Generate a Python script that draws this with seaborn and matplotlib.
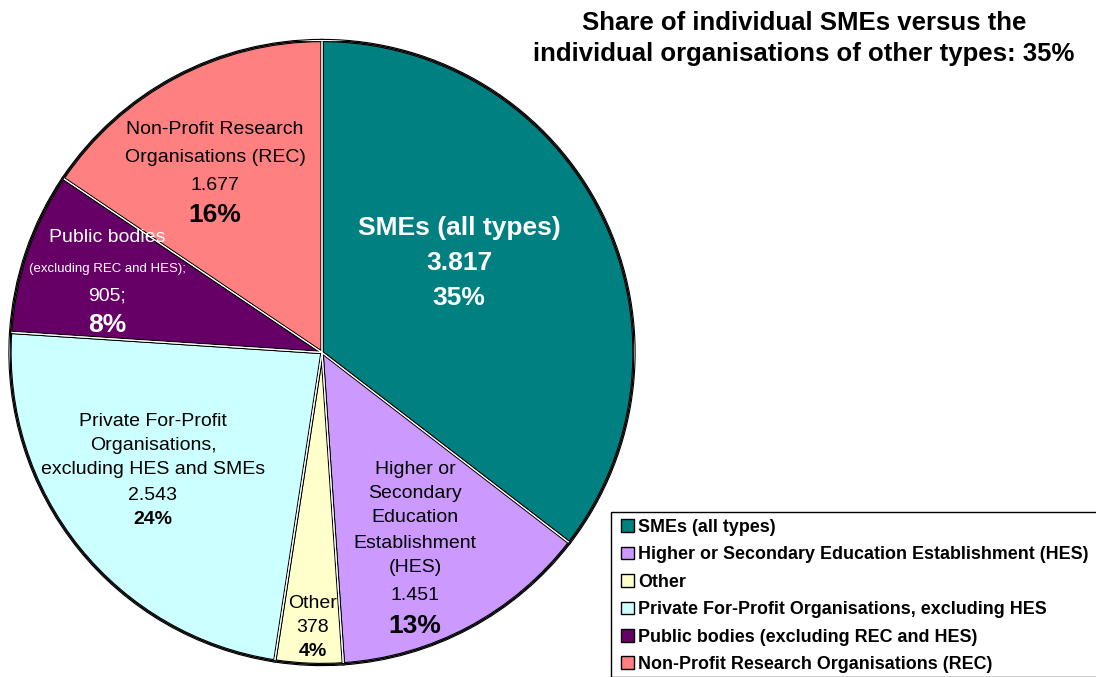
import numpy as np
import pandas as pd
import matplotlib.pyplot as plt
import seaborn as sns
from matplotlib.patches import Patch, Rectangle, Circle

sns.set_theme(style="white")
plt.rcParams["font.family"] = ["Liberation Sans", "DejaVu Sans"]
plt.rcParams["text.color"] = "black"

# data
categories = ["SMEs (all types)",
              "Higher or Secondary Education Establishment (HES)",
              "Other",
              "Private For-Profit Organisations, excluding HES",
              "Public bodies (excluding REC and HES)",
              "Non-Profit Research Organisations (REC)"]
counts = [3817, 1451, 378, 2543, 905, 1677]
count_labels = ["3.817", "1.451", "378", "2.543", "905;", "1.677"]
colors = ["#008080", "#CC99FF", "#FFFFCC", "#CCFFFF", "#660066", "#FF8080"]

df = pd.DataFrame({"cat": categories, "n": counts})
df["pct"] = df["n"] / df["n"].sum() * 100

W, H = 1096, 677
CX, CY, R = 322, 352.5, 312

fig = plt.figure(figsize=(W / 100, H / 100), dpi=100)
ax = fig.add_axes([(CX - R) / W, (H - CY - R) / H, 2 * R / W, 2 * R / H])

# black outline with a thin white gap between slices, then outer rim
ax.pie(df["n"], colors=colors, startangle=90, counterclock=False,
       wedgeprops=dict(edgecolor="black", linewidth=2.4, joinstyle="miter"))
ax.pie(df["n"], colors=colors, startangle=90, counterclock=False,
       wedgeprops=dict(fill=False, edgecolor="white", linewidth=0.8, joinstyle="miter"))
ax.add_patch(Circle((0, 0), 1, fill=False, edgecolor="black", lw=1.1))
ax.set_xlim(-1, 1)
ax.set_ylim(-1, 1)
ax.axis("off")


def put(x_px, y_px, s, size=14, bold=False, color="black"):
    ax.text((x_px - CX) / R, (CY - y_px) / R, s, ha="center", va="center",
            fontsize=size, fontweight="bold" if bold else "normal", color=color)


pct = [f"{p:.0f}%" for p in df["pct"]]

# SMEs
put(459, 228, "SMEs (all types)", 19, True, "white")
put(459, 263, count_labels[0], 19, True, "white")
put(459, 298, pct[0], 19, True, "white")
# HES
for s, y in zip(["Higher or", "Secondary", "Education", "Establishment", "(HES)"],
                [470, 494, 518, 543, 568]):
    put(415, y, s)
put(415, 595, count_labels[1])
put(415, 626, pct[1], 19, True)
# Other
put(313, 603, "Other")
put(313, 627, count_labels[2])
put(313, 652, pct[2], 14, True)
# Private
for s, y in zip(["Private For-Profit", "Organisations,", "excluding HES and SMEs"],
                [421, 446, 470]):
    put(153, y, s)
put(153, 495, count_labels[3])
put(153, 520, pct[3], 14, True)
# Public bodies
put(107, 238, "Public bodies", 14, False, "white")
put(107, 269, "(excluding REC and HES);", 9.5, False, "white")
put(107, 296, count_labels[4], 14, False, "white")
put(107, 325, pct[4], 19, True, "white")
# REC
put(215, 129, "Non-Profit Research")
put(215, 157, "Organisations (REC)")
put(215, 185, count_labels[5])
put(215, 215, pct[5], 19, True)

fig.text(804 / W, 1 - 38.5 / H,
         "Share of individual SMEs versus the\nindividual organisations of other types: "
         + pct[0], ha="center", va="center", fontsize=18.5, fontweight="bold",
         linespacing=1.42, color="black")

# legend
fig.patches.append(Rectangle((611 / W, 0), 1, (H - 512) / H, transform=fig.transFigure,
                             fill=False, edgecolor="black", lw=1.0))
handles = [Patch(facecolor=c, edgecolor="black", lw=1.0) for c in colors]
leg = fig.legend(handles, categories, loc="upper left",
                 bbox_to_anchor=(621 / W, 1 - 519 / H), frameon=False,
                 prop=dict(size=12.9, weight="bold"), handlelength=0.7, handleheight=0.7,
                 handletextpad=0.25, labelspacing=0.58, borderpad=0, borderaxespad=0)
for t in leg.get_texts():
    t.set_color("black")

fig.savefig("out.png", dpi=100)
